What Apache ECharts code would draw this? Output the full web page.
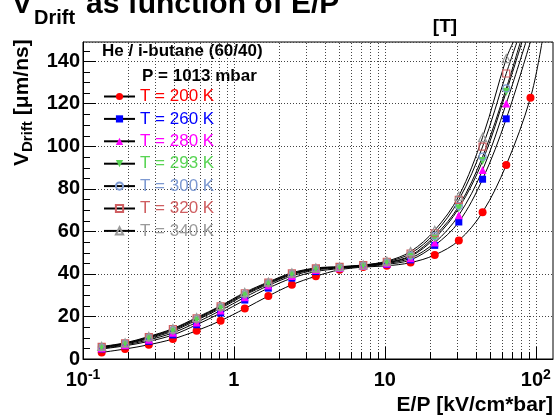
<!DOCTYPE html>
<html><head><meta charset="utf-8">
<script src="https://cdn.jsdelivr.net/npm/echarts@6/dist/echarts.min.js"></script>
<style>html,body{margin:0;padding:0;background:#fff}#c{width:559px;height:417px}</style>
</head><body><div id="c"></div>
<script>
// ---- data ----
const epValues = [0.133,0.19,0.273,0.394,0.566,0.816,1.18,1.69,2.42,3.49,5.01,7.19,10.3,14.8,21.4,30.9,44.4,63.7,92.2];
const seriesNames = ['T = 200 K','T = 260 K','T = 280 K','T = 293 K','T = 300 K','T = 320 K','T = 340 K'];
const v200 = [3.1,4.7,6.7,9.4,13.3,18.0,23.7,29.6,34.9,38.9,41.9,43.2,43.8,45.3,48.9,55.7,69.0,91.2,122.8];
const v260 = [4.7,6.2,8.3,11.3,16.1,21.6,27.7,33.3,38.0,41.1,42.5,43.5,44.5,46.6,53.4,64.4,84.5,112.9];
const v280 = [5.0,6.6,9.0,12.3,17.2,22.8,29.0,34.5,39.0,41.8,42.8,43.7,44.9,47.4,54.7,67.6,88.8,120.1];
const v293 = [5.3,7.0,9.6,13.1,18.2,23.8,30.0,35.2,39.6,42.2,43.0,43.9,45.2,48.2,56.8,70.9,93.1,125.6];
const v300 = [5.5,7.2,10.0,13.6,18.7,24.3,30.5,35.6,39.9,42.4,43.1,44.0,45.4,48.6,57.8,71.9,95.1,127.2];
const v320 = [5.7,7.4,10.3,14.0,19.1,24.7,30.9,35.9,40.2,42.6,43.3,44.1,45.7,49.6,59.1,74.8,99.8,134.2];
const v340 = [5.9,7.6,10.6,14.3,19.5,25.0,31.3,36.2,40.5,42.8,43.4,44.2,46.0,50.5,60.5,76.6,104.2,141.2];
// E/P where each fit curve leaves the top of the frame
const fitExitX = [110,92,86,81,79,75,71];
const yMin = 0, yMax = 149, yStep = 20;
const xMin = 0.1, xMax = 130;
const xGridValues = [0.2,0.3,0.4,0.5,0.6,0.7,0.8,0.9,1,2,3,4,5,6,7,8,9,10,20,30,40,50,60,70,80,90,100];
const xMajorValues = [1,10,100];
const yMinorValues = [5,10,15,25,30,35,45,50,55,65,70,75,85,90,95,105,110,115,125,130,135,145];

// ---- styles ----
const allValues = [v200,v260,v280,v293,v300,v320,v340];
const colors = ['#ff0000','#0000ff','#ff00ff','#59d454','#7d99d1','#cf5e61','#9a9a9a'];
const symbols = ['circle','rect','triangle','triangle','circle','rect','triangle'];
const hollow = [false,false,false,false,true,true,true];
const symRot = [0,0,0,180,0,0,0];
const symSize = [8,7,8,8,7,7,8];
const FF = '"Liberation Sans", Arial, sans-serif';

const chart = echarts.init(document.getElementById('c'), null, {renderer:'canvas'});

const lineSeries = allValues.map((vals, i) => ({
  type: 'line', name: seriesNames[i], z: 3,
  smooth: 0.35, symbol: symbols[i], symbolSize: symSize[i], symbolRotate: symRot[i],
  showAllSymbol: true, clip: true,
  lineStyle: {color: '#000', width: 1},
  itemStyle: hollow[i]
    ? {color: 'rgba(255,255,255,0)', borderColor: colors[i], borderWidth: 1.2}
    : {color: colors[i], borderColor: colors[i], borderWidth: 0},
  emphasis: {disabled: true},
  data: vals.map((v, j) => [epValues[j], v]).concat([{value: [fitExitX[i], yMax], symbol: 'none'}])
}));

const gridSeries = {
  type: 'custom', z: 1, silent: true,
  data: xGridValues.map(v => [v, yMin]),
  renderItem: function (params, api) {
    const x = api.value(0);
    const p0 = api.coord([x, yMin]);
    const p1 = api.coord([x, yMax]);
    const px = Math.round(p0[0]) + 0.5;
    const major = xMajorValues.indexOf(x) >= 0;
    return {type: 'group', children: [
      {type: 'line', shape: {x1: px, y1: p0[1], x2: px, y2: p1[1]}, style: {stroke: '#444', lineWidth: 1, lineDash: [1, 2]}},
      {type: 'line', shape: {x1: px, y1: p0[1], x2: px, y2: p0[1] - (major ? 12 : 7)}, style: {stroke: '#000', lineWidth: 1}}
    ]};
  }
};
const yMinorSeries = {
  type: 'custom', z: 1, silent: true,
  data: yMinorValues.map(v => [xMin, v]),
  renderItem: function (params, api) {
    const p = api.coord([xMin, api.value(1)]);
    const py = Math.round(p[1]) + 0.5;
    return {type: 'line', shape: {x1: p[0], y1: py, x2: p[0] + 7, y2: py}, style: {stroke: '#000', lineWidth: 1}};
  }
};

function xLabel(v) {
  const e = Math.round(Math.log10(v));
  if (Math.abs(Math.log10(v) - e) > 1e-6) return '';
  if (e === 0) return '{b|1}';
  if (e === 1) return '{b|10}';
  return '{b|10}{s|' + e + '}';
}

const option = {
  animation: false,
  backgroundColor: '#fff',
  grid: {left: 83, right: 6, top: 42, bottom: 58, show: true, borderColor: '#000', borderWidth: 1, backgroundColor: 'transparent'},
  xAxis: {
    type: 'log', logBase: 10, min: xMin, max: xMax,
    axisLine: {show: true, lineStyle: {color: '#000', width: 1}},
    axisTick: {show: false},
    splitLine: {show: false},
    minorTick: {show: false}, minorSplitLine: {show: false},
    axisLabel: {
      margin: 9, showMaxLabel: false, formatter: xLabel, color: '#000',
      rich: {
        b: {fontSize: 20, fontWeight: 'bold', fontFamily: FF, color: '#000', lineHeight: 22, verticalAlign: 'bottom'},
        s: {fontSize: 14, fontWeight: 'bold', fontFamily: FF, color: '#000', lineHeight: 22, verticalAlign: 'top', padding: [0, 0, 7, 0]}
      }
    }
  },
  yAxis: {
    type: 'value', min: yMin, max: yMax, interval: yStep,
    axisLine: {show: true, lineStyle: {color: '#000', width: 1}},
    axisTick: {show: true, inside: true, length: 13, lineStyle: {color: '#000'}},
    splitLine: {show: true, lineStyle: {color: '#444', width: 1, type: [1, 2]}},
    axisLabel: {margin: 3, showMaxLabel: false, fontSize: 20, fontWeight: 'bold', fontFamily: FF, color: '#000'}
  },
  legend: {
    orient: 'vertical', left: 103, top: 88, padding: 0,
    itemWidth: 31, itemHeight: 9, itemGap: 5.4, selectedMode: false,
    textStyle: {fontSize: 17, fontFamily: FF},
    data: seriesNames.map((n, i) => ({name: n, textStyle: {color: colors[i]}}))
  },
  graphic: [
    {type: 'text', x: 12, y: 5, style: {text: 'V', font: 'bold 30px ' + FF, fill: '#000', verticalAlign: 'middle'}},
    {type: 'text', x: 34, y: 18, style: {text: 'Drift', font: 'bold 20px ' + FF, fill: '#000', verticalAlign: 'middle'}},
    {type: 'text', x: 86, y: 5, style: {text: 'as function of E/P', font: 'bold 30px ' + FF, fill: '#000', verticalAlign: 'middle'}},
    {type: 'text', x: 445, y: 27, style: {text: '[T]', font: 'bold 19px ' + FF, fill: '#000', align: 'center', verticalAlign: 'middle'}},
    {type: 'text', x: 553, y: 405, style: {text: 'E/P [kV/cm*bar]', font: 'bold 21px ' + FF, fill: '#000', align: 'right', verticalAlign: 'middle'}},
    {type: 'group', x: 22, y: 166, rotation: Math.PI / 2, children: [
      {type: 'text', x: 0, y: 0, style: {text: 'V', font: 'bold 21px ' + FF, fill: '#000', verticalAlign: 'middle'}},
      {type: 'text', x: 14, y: 6, style: {text: 'Drift', font: 'bold 15px ' + FF, fill: '#000', verticalAlign: 'middle'}},
      {type: 'text', x: 45, y: 0, style: {text: ' [\u03bcm/ns]', font: 'bold 21px ' + FF, fill: '#000', verticalAlign: 'middle'}}
    ]},
    {type: 'text', x: 102, y: 51, style: {text: 'He / i-butane (60/40)', font: 'bold 17px ' + FF, fill: '#000', verticalAlign: 'middle'}},
    {type: 'text', x: 142, y: 76, style: {text: 'P = 1013 mbar', font: 'bold 17px ' + FF, fill: '#000', verticalAlign: 'middle'}}
  ],
  series: [gridSeries, yMinorSeries].concat(lineSeries)
};
chart.setOption(option);
</script>
</body></html>
